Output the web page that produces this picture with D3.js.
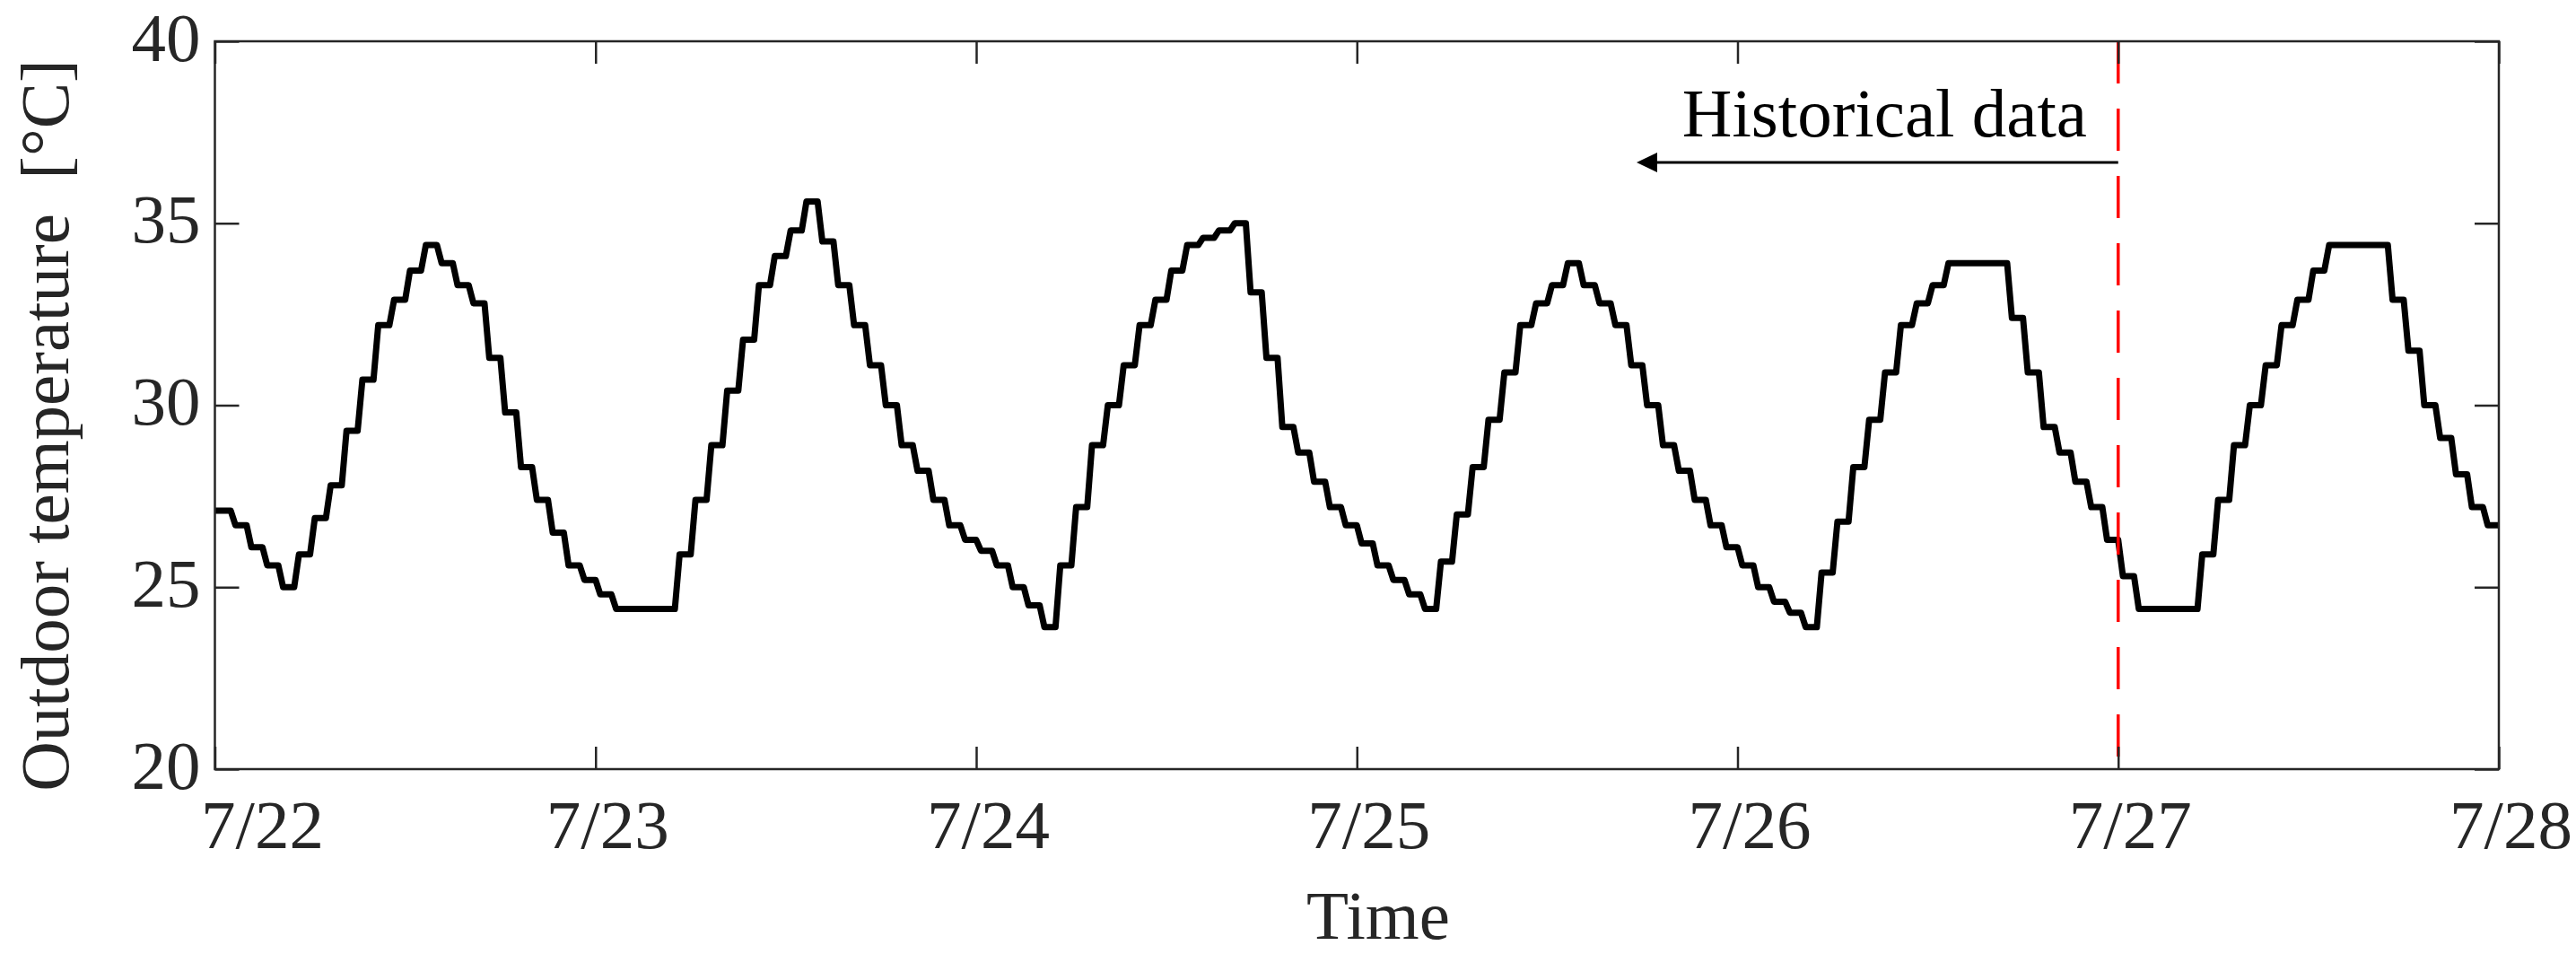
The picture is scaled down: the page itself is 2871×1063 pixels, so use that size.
<!DOCTYPE html>
<html>
<head>
<meta charset="utf-8">
<script src="https://cdn.jsdelivr.net/npm/d3@7/dist/d3.min.js"></script>
<style>
  html, body { margin: 0; padding: 0; background: #fff; }
  svg { display: block; }
  text { font-family: "Liberation Serif", "Times New Roman", serif; }
</style>
</head>
<body>
<script>
// ---- data (hourly outdoor temperature, °C) ----
const day1 = [27.1, 26.7, 26.1, 25.6, 25.0, 25.9, 26.9, 27.8, 29.3, 30.7, 32.2, 32.9, 33.7, 34.4, 33.9, 33.3, 32.8, 31.3, 29.8, 28.3, 27.4, 26.5, 25.6, 25.2];
const day2 = [24.8, 24.4, 24.4, 24.4, 24.4, 25.9, 27.4, 28.9, 30.4, 31.8, 33.3, 34.1, 34.8, 35.6, 34.5, 33.3, 32.2, 31.1, 30.0, 28.9, 28.2, 27.4, 26.7, 26.3];
const day3 = [26.0, 25.6, 25.0, 24.5, 23.9, 25.6, 27.2, 28.9, 30.0, 31.1, 32.2, 32.9, 33.7, 34.4, 34.6, 34.8, 35.0, 33.1, 31.3, 29.4, 28.7, 27.9, 27.2, 26.7];
const day4 = [26.2, 25.6, 25.2, 24.8, 24.4, 25.7, 27.0, 28.3, 29.6, 30.9, 32.2, 32.8, 33.3, 33.9, 33.3, 32.8, 32.2, 31.1, 30.0, 28.9, 28.2, 27.4, 26.7, 26.1];
const day5 = [25.6, 25.0, 24.6, 24.3, 23.9, 25.4, 26.8, 28.3, 29.6, 30.9, 32.2, 32.8, 33.3, 33.9, 33.9, 33.9, 33.9, 32.4, 30.9, 29.4, 28.7, 27.9, 27.2, 26.3];
const day6 = [25.3, 24.4, 24.4, 24.4, 24.4, 25.9, 27.4, 28.9, 30.0, 31.1, 32.2, 32.9, 33.7, 34.4, 34.4, 34.4, 34.4, 32.9, 31.5, 30.0, 29.1, 28.1, 27.2, 26.7];
const dayLabels = ["7/22", "7/23", "7/24", "7/25", "7/26", "7/27", "7/28"];
const yTicks = [20, 25, 30, 35, 40];
const forecastStartHour = 120;   // 7/27 00:00
const annotationText = "Historical data";
const xTitle = "Time";
const yTitle = "Outdoor temperature  [\u00B0C]";

(function () {
const temps = [].concat(day1, day2, day3, day4, day5, day6);

// ---- layout ----
const W = 2871, H = 1063;
const pL = 239.5, pR = 2785, pT = 46, pB = 857;
const axisColor = "#262626";
const FS = 77;
const ramp = 0.3;

const svg = d3.select("body").append("svg")
  .attr("width", W).attr("height", H);

const x = d3.scaleLinear().domain([0, temps.length]).range([pL, pR]);
const y = d3.scaleLinear().domain([20, 40]).range([pB, pT]);
const dayTicks = dayLabels.map((d, i) => i * 24);

// line points: each hourly value is held across the hour, with a short ramp at the start
const pts = [[0, temps[0]]];
temps.forEach((v, h) => {
  if (h > 0) pts.push([h + ramp, v]);
  pts.push([h + 1, v]);
});

// temperature line
svg.append("path")
  .datum(pts)
  .attr("fill", "none")
  .attr("stroke", "#000")
  .attr("stroke-width", 7)
  .attr("stroke-linejoin", "round")
  .attr("d", d3.line().x(d => x(d[0])).y(d => y(d[1])));

// forecast boundary
svg.append("line")
  .attr("x1", x(forecastStartHour)).attr("x2", x(forecastStartHour))
  .attr("y1", y(40)).attr("y2", y(20))
  .attr("stroke", "#ff0000").attr("stroke-width", 3.5)
  .attr("stroke-dasharray", "47,28");

// annotation arrow
const arrowY = 181;
const arrowTipX = 1824;
svg.append("line")
  .attr("x1", x(forecastStartHour)).attr("x2", arrowTipX + 20)
  .attr("y1", arrowY).attr("y2", arrowY)
  .attr("stroke", "#000").attr("stroke-width", 3);
svg.append("path")
  .attr("d", `M${arrowTipX},${arrowY} L${arrowTipX + 23},${arrowY - 11} L${arrowTipX + 23},${arrowY + 11} Z`)
  .attr("fill", "#000");
svg.append("text")
  .attr("x", 2326).attr("y", 152)
  .attr("text-anchor", "end")
  .attr("font-size", FS)
  .attr("fill", "#000")
  .text(annotationText);

// axes box
const g = svg.append("g");
g.append("rect")
  .attr("x", pL).attr("y", pT)
  .attr("width", pR - pL).attr("height", pB - pT)
  .attr("fill", "none").attr("stroke", axisColor).attr("stroke-width", 2.5);

// y ticks (left and right, inward)
const yAxisL = d3.axisLeft(y).tickValues(yTicks).tickSize(-27).tickFormat(d3.format("d")).tickPadding(0);
const yAxisR = d3.axisRight(y).tickValues(yTicks).tickSize(-27).tickFormat("");
const gyL = g.append("g").attr("transform", `translate(${pL},0)`).call(yAxisL);
const gyR = g.append("g").attr("transform", `translate(${pR},0)`).call(yAxisR);
// x ticks (bottom and top, inward)
const xAxisB = d3.axisBottom(x).tickValues(dayTicks).tickSize(-25).tickFormat((d, i) => dayLabels[i]);
const xAxisT = d3.axisTop(x).tickValues(dayTicks).tickSize(-25).tickFormat("");
const gxB = g.append("g").attr("transform", `translate(0,${pB})`).call(xAxisB);
const gxT = g.append("g").attr("transform", `translate(0,${pT})`).call(xAxisT);

[gyL, gyR, gxB, gxT].forEach(a => {
  a.select(".domain").remove();
  a.selectAll(".tick line").attr("stroke", axisColor).attr("stroke-width", 2.5);
});

gyL.selectAll(".tick text")
  .attr("x", -16).attr("dy", null).attr("y", 0)
  .attr("dominant-baseline", "central")
  .attr("transform", "translate(0,-5)")
  .attr("font-size", FS).attr("font-family", "Liberation Serif")
  .attr("fill", axisColor).attr("text-anchor", "end");

gxB.selectAll(".tick text")
  .attr("dy", null).attr("y", 945 - pB)
  .attr("x", (d, i) => i === 0 ? -16 : 13)
  .attr("text-anchor", (d, i) => i === 0 ? "start" : "middle")
  .attr("font-size", FS).attr("font-family", "Liberation Serif")
  .attr("fill", axisColor);

// axis titles
svg.append("text")
  .attr("x", 1536).attr("y", 1046)
  .attr("text-anchor", "middle")
  .attr("font-size", FS).attr("fill", axisColor)
  .text(xTitle);

svg.append("text")
  .attr("transform", "translate(76,474) rotate(-90)")
  .attr("text-anchor", "middle")
  .attr("font-size", FS).attr("fill", axisColor)
  .style("white-space", "pre")
  .text(yTitle);
})();
</script>
</body>
</html>
